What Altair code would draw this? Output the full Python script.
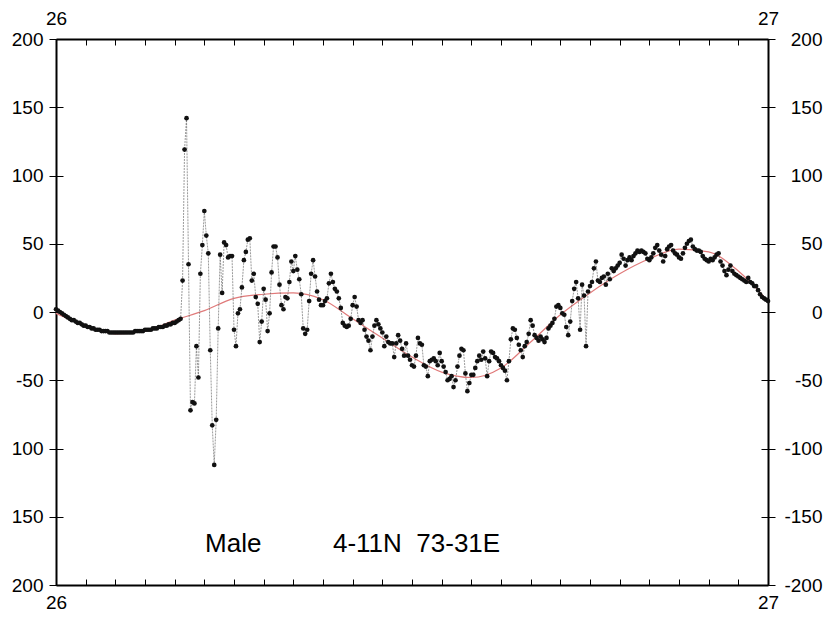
import altair as alt
import pandas as pd

# ---------------- data ----------------
START_DAY = 26
END_DAY = 27
STEP_MIN = 4  # sampling interval of the gauge record (minutes)

# sea level (cm) at 4-minute steps
seg_calm = [2, 1, 0, -1, -2, -3, -4, -5, -6, -6,
            -7, -8, -8, -9, -10, -10, -11, -11, -12, -12,
            -13, -13, -13, -14, -14, -14, -14, -15, -15, -15,
            -15, -15, -15, -15, -15, -15, -15, -15, -15, -15,
            -14, -14, -14, -14, -14, -13, -13, -13, -13, -12,
            -12, -12, -11, -11, -11, -10, -10, -9, -9, -8,
            -8, -7, -6, -5]
seg_arrival = [23, 119, 142, 35, -72, -66, -67, -25, -48, 28,
               49, 74, 56, 43, -28, -83, -112, -79, -12, 42,
               14, 51, 49, 40, 41, 41, -13, -25, -1, 2,
               18, 38, 44, 53, 54, 23, 28, 11, 6, -22,
               -7, 17, 9]
seg_ringing = [-14, -1, 29, 48, 48, 40, 20, 5, 2, 11,
               10, 22, 37, 30, 41, 31, 24, 13, -12, -16,
               -13, 8, 28, 38, 26, 15, 9, 5, 5, 8,
               10, 21, 28, 22, 17, 15, 10, 3, -8, -10,
               -11, -10, -5, 5, 11, 4, -6, -8, -6, -13,
               -18, -21, -28, -18, -10, -6, -9]
seg_low = [-12, -15, -25, -18, -22, -23, -23, -33, -23, -17,
           -21, -27, -32, -23, -32, -35, -39, -40, -32, -19,
           -23, -24, -39, -40, -47, -36, -35, -34, -36, -39,
           -30, -36, -40, -44, -50, -49, -47, -55, -50, -40,
           -32, -27, -28, -45, -58, -52, -46, -46, -41, -36,
           -32, -35, -29, -34, -47, -36, -29, -30, -33, -34,
           -36, -39, -41, -43, -50, -36]
seg_rise = [-20, -12, -13, -19, -24, -28, -33, -25, -22, -16,
            -6, -10, -17, -19, -21, -18, -20, -22, -19, -12,
            -10, -8, -5, 4, 5, 3, -1, -2, -11, -17,
            -7, 8, 17, 22, 10, -13, 20, 12, -25, 15,
            19, 22, 32, 37, 23, 22, 25, 26, 20, 28,
            24, 32, 30, 32, 34, 36, 42, 39, 34, 38,
            40]
seg_high = [38, 41, 43, 45, 44, 45, 44, 43, 39, 38,
            40, 43, 47, 49, 45, 42, 37, 41, 46, 48,
            49, 45, 43, 42, 40, 39, 43, 47, 50, 52,
            53, 48, 46, 45, 45, 44, 41, 39, 38, 37,
            39, 38, 40, 42, 43, 37, 34, 30, 27, 31,
            34, 30, 28, 27, 26, 25, 24, 23, 22, 25,
            22, 21, 19, 19, 16, 13, 11, 10, 9, 8]
sea_level = seg_calm + seg_arrival + seg_ringing + seg_low + seg_rise + seg_high

# smooth tidal curve (red), hourly values
fit_hour = list(range(25))
fit_level = [-1, -10, -16, -14, -6, 1, 10, 13, 14, 9,
             -5, -19, -33, -44, -48, -41, -22, -2, 14, 28,
             39, 46, 44, 30, 8]

y_ticks = [200, 150, 100, 50, 0, -50, -100, -150, -200]
x_label_vals = [26, 27]
tick_hours = list(range(25))

annot_text = ["Male", "4-11N\u00a0\u00a073-31E"]
annot_x = [26.2093, 26.389]
annot_y = [-176, -176]

# ---------------- tables ----------------
obs = pd.DataFrame({
    "t": [START_DAY + i * STEP_MIN / 1440 for i in range(len(sea_level))],
    "v": sea_level,
})
fit = pd.DataFrame({"t": [START_DAY + h / 24 for h in fit_hour], "v": fit_level})
ann = pd.DataFrame({"t": annot_x, "v": annot_y, "label": annot_text})
hour_ticks = [START_DAY + h / 24 for h in tick_hours]

FONT = "Liberation Sans"
xs = alt.Scale(domain=[START_DAY, END_DAY], nice=False, zero=False)
ys = alt.Scale(domain=[-200, 200], nice=False, zero=False)

common = dict(labelFont=FONT, labelFontSize=19, labelColor="black",
              domainColor="black", tickColor="black", grid=False, title=None)
hidden = dict(grid=False, title=None, labels=False, domain=False,
              tickColor="black", tickWidth=1)

x_bottom = alt.Axis(orient="bottom", values=x_label_vals, ticks=False, tickSize=0,
                    labelPadding=8, domainWidth=2, labelFlush=False,
                    labelOverlap=False, labelExpr="'' + datum.value", **common)
x_top = alt.Axis(orient="top", values=x_label_vals, ticks=False, tickSize=0,
                 labelPadding=11, domainWidth=2, labelFlush=False,
                 labelOverlap=False, labelExpr="'' + datum.value", **common)
y_left = alt.Axis(orient="left", values=y_ticks, tickSize=7, tickWidth=1,
                  labelPadding=6, domainWidth=2, labelOverlap=False,
                  labelExpr="datum.value <= -100 ? '' + (-datum.value) : '' + datum.value",
                  **common)
y_right = alt.Axis(orient="right", values=y_ticks, tickSize=7, tickWidth=1,
                   labelPadding=47, labelAlign="right", domainWidth=2,
                   labelOverlap=False, labelExpr="'' + datum.value", **common)

x_bottom_in = alt.Axis(orient="bottom", values=hour_ticks, tickSize=6, offset=-6, **hidden)
x_top_in = alt.Axis(orient="top", values=hour_ticks, tickSize=6, offset=-6, **hidden)
y_left_in = alt.Axis(orient="left", values=y_ticks, tickSize=7, offset=-7, **hidden)
y_right_in = alt.Axis(orient="right", values=y_ticks, tickSize=7, offset=-7, **hidden)

fit_line = alt.Chart(fit).mark_line(color="#e07a7a", strokeWidth=1.2,
                                    interpolate="monotone").encode(
    x=alt.X("t:Q", scale=xs, axis=x_bottom),
    y=alt.Y("v:Q", scale=ys, axis=y_left),
)
obs_line = alt.Chart(obs).mark_line(color="#555555", strokeWidth=0.6,
                                    strokeDash=[2, 1]).encode(
    x=alt.X("t:Q", scale=xs, axis=x_top),
    y=alt.Y("v:Q", scale=ys, axis=y_right),
)
obs_pts = alt.Chart(obs).mark_circle(size=22, color="#111111", opacity=1).encode(
    x=alt.X("t:Q", scale=xs, axis=x_bottom_in),
    y=alt.Y("v:Q", scale=ys, axis=y_left_in),
)
labels = alt.Chart(ann).mark_text(font=FONT, fontSize=26, align="left",
                                  baseline="alphabetic", color="black").encode(
    x=alt.X("t:Q", scale=xs, axis=x_top_in),
    y=alt.Y("v:Q", scale=ys, axis=y_right_in),
    text="label:N",
)

chart = alt.layer(fit_line, obs_line, obs_pts, labels).resolve_scale(
    x="independent", y="independent"
).properties(
    width=712, height=546,
    autosize=alt.AutoSizeParams(type="none"),
    padding={"left": 48, "top": 31, "right": 55, "bottom": 27},
    background="white",
).configure_view(stroke=None)

chart.save("out.html", embed_options={"renderer": "svg", "actions": False})
